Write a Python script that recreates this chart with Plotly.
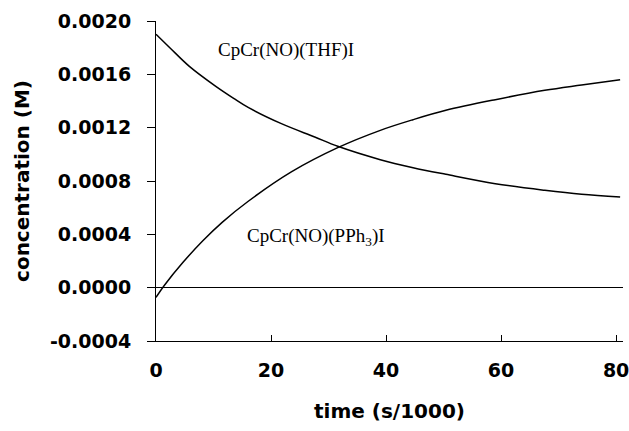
import plotly.graph_objects as go

# Data
time_thf = [0, 2.4, 5.8, 10.4, 13.5, 16.1, 21.8, 27.6, 31.6, 39, 44.7, 50.4, 59, 67.6, 74, 80.7]
conc_thf = [0.0019, 0.0018, 0.00166, 0.00151, 0.00142, 0.00135, 0.00123, 0.00113, 0.00106,
            0.00096, 0.0009, 0.00085, 0.00078, 0.00073, 0.0007, 0.00068]

time_pph3 = [0, 1.5, 4.7, 8.1, 11.5, 16.1, 23.6, 31.6, 39, 44.7, 50.4, 59, 67.6, 74, 80.7]
conc_pph3 = [-0.000073, 0.00002, 0.00019, 0.00035, 0.00049, 0.00065, 0.00087, 0.00105,
             0.00118, 0.00126, 0.00133, 0.00141, 0.00148, 0.00152, 0.00156]

x_tick_vals = [0, 20, 40, 60, 80]
x_tick_text = ["0", "20", "40", "60", "80"]
y_tick_vals = [-0.0004, 0.0, 0.0004, 0.0008, 0.0012, 0.0016, 0.0020]
y_tick_text = ["-0.0004", "0.0000", "0.0004", "0.0008", "0.0012", "0.0016", "0.0020"]

labels = ["CpCr(NO)(THF)I", "CpCr(NO)(PPh<sub>3</sub>)I"]
label_x = [22.6, 27.9]
label_y = [0.00178, 0.000378]

fig = go.Figure()
fig.add_trace(go.Scatter(x=time_thf, y=conc_thf, mode="lines",
                         line=dict(color="black", width=1.5, shape="spline", smoothing=1),
                         showlegend=False))
fig.add_trace(go.Scatter(x=time_pph3, y=conc_pph3, mode="lines",
                         line=dict(color="black", width=1.5, shape="spline", smoothing=1),
                         showlegend=False))

for txt, lx, ly in zip(labels, label_x, label_y):
    fig.add_annotation(x=lx, y=ly, text=txt, showarrow=False,
                       font=dict(family="Liberation Serif", size=19, color="black"))

axis_font = dict(family="DejaVu Sans", size=19, color="black", weight="bold")
title_font = dict(family="DejaVu Sans", size=20, color="black", weight="bold")

fig.update_layout(
    width=629, height=431,
    margin=dict(l=156, r=0, t=21, b=90),
    paper_bgcolor="white", plot_bgcolor="white",
    xaxis=dict(
        range=[0, 81.2],
        tickvals=x_tick_vals, ticktext=x_tick_text,
        ticks="inside", ticklen=6, tickcolor="black",
        showline=True, linecolor="black", linewidth=1,
        showgrid=False, zeroline=False,
        tickfont=axis_font,
        ticklabelstandoff=12,
        ticklabeloverflow="allow",
        title=dict(text="time (s/1000)", font=title_font, standoff=24),
    ),
    yaxis=dict(
        range=[-0.0004, 0.0020],
        tickvals=y_tick_vals, ticktext=y_tick_text,
        ticks="outside", ticklen=8, tickcolor="black",
        showline=True, linecolor="black", linewidth=1,
        showgrid=False,
        zeroline=True, zerolinecolor="black", zerolinewidth=1,
        tickfont=axis_font,
        ticklabelstandoff=12,
        ticklabeloverflow="allow",
        title=dict(text="concentration (M)", font=title_font, standoff=14),
    ),
)

fig.write_html("out.html")
